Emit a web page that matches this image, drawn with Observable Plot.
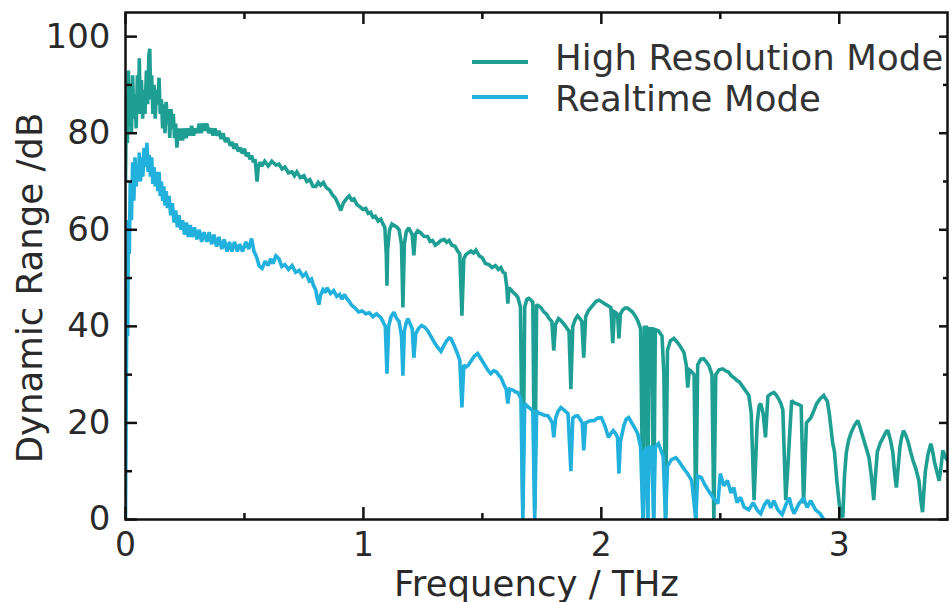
<!DOCTYPE html>
<html>
<head>
<meta charset="utf-8">
<script src="https://cdn.jsdelivr.net/npm/d3@7"></script>
<script src="https://cdn.jsdelivr.net/npm/@observablehq/plot@0.6"></script>
<style>
  html, body { margin: 0; padding: 0; background: #fff; }
  #wrap { position: relative; width: 952px; height: 602px; font-family: "DejaVu Sans", sans-serif; }
  .leg-line { position: absolute; width: 56px; height: 4px; }
  .leg-text { position: absolute; font-size: 35.5px; line-height: 36px; color: #333; white-space: nowrap; letter-spacing: 0.1px; }
</style>
</head>
<body>
<div id="wrap"></div>
<script>
// ---- data (frequency THz, dynamic range dB) ----
const seriesNames = ["High Resolution Mode", "Realtime Mode"];
const seriesColors = ["#1f9f93", "#22b0dc"];

const highResolution = [
  [0.000,70],[0.004,88],[0.008,78],[0.012,93],[0.016,82],[0.020,90],[0.025,80],[0.030,92],
  [0.035,83],[0.040,88],[0.045,81],[0.050,92],[0.055,85],[0.058,95.5],[0.062,84],[0.067,91],
  [0.072,83],[0.077,89],[0.082,84],[0.088,93],[0.093,86],[0.098,96],[0.102,97.5],[0.106,87],
  [0.110,92],[0.115,84],[0.120,90],[0.125,83],[0.130,89],[0.136,86],[0.141,91.5],[0.146,84],
  [0.151,87],[0.156,81],[0.161,86],[0.166,80],[0.171,86.5],[0.176,82],[0.181,85],[0.186,79],
  [0.191,85],[0.196,81],[0.201,84],[0.206,79],[0.211,82],[0.216,77],[0.222,81],[0.228,78.5],
  [0.234,81],[0.240,78.5],[0.247,81],[0.255,79],[0.263,81],[0.270,79.5],[0.278,81.5],
  [0.286,79.5],[0.294,81],[0.302,80],[0.310,82],[0.318,80],[0.326,82],[0.334,80.5],[0.342,82],
  [0.350,80],[0.360,81],[0.368,79.5],[0.376,81],[0.385,79.5],[0.393,80.5],[0.402,78.8],
  [0.410,80],[0.420,78.2],[0.430,79],[0.440,77.4],[0.447,78.2],[0.456,76.8],[0.465,77.8],
  [0.474,76.2],[0.482,77],[0.491,75.8],[0.500,76.8],[0.508,75.2],[0.515,76],[0.523,74.6],
  [0.530,75.4],[0.538,74],[0.545,74.6],[0.553,70],[0.558,73],[0.566,74],[0.573,73.2],
  [0.585,74.2],[0.600,73.2],[0.615,74.2],[0.632,73.4],[0.645,73.6],[0.658,72.6],[0.670,73],
  [0.685,71.8],[0.700,72],[0.710,71.2],[0.720,72],[0.735,70.8],[0.750,71.2],[0.762,70],
  [0.775,70.4],[0.788,69],[0.800,69],[0.810,69.8],[0.820,69.2],[0.832,69.8],[0.843,68.8],
  [0.858,68.2],[0.870,67.2],[0.883,66.5],[0.895,65.2],[0.905,64],[0.915,65.5],[0.928,66.4],
  [0.940,67],[0.950,66.2],[0.960,66.4],[0.973,65.2],[0.985,64.8],[0.998,64.2],[1.010,64.4],
  [1.020,63.4],[1.030,63.6],[1.040,62.6],[1.050,62.8],[1.062,61.8],[1.073,62.2],[1.082,61.2],
  [1.090,60.5],[1.096,55],[1.099,48.4],[1.102,56],[1.110,60],[1.120,61.2],[1.128,60.9],
  [1.140,60.6],[1.150,60],[1.160,57],[1.166,43.9],[1.172,57],[1.180,59.6],[1.190,60.4],
  [1.205,59],[1.212,54.7],[1.218,59],[1.228,59.8],[1.240,59.4],[1.255,58.6],[1.270,58.6],
  [1.280,57.6],[1.290,57.8],[1.302,56.8],[1.313,57.2],[1.326,57.8],[1.340,58],[1.350,57.4],
  [1.360,57.8],[1.372,56.8],[1.385,56.6],[1.396,55.6],[1.405,55],[1.414,42.2],[1.422,54],
  [1.430,54.8],[1.440,55.2],[1.452,55.6],[1.463,55.2],[1.473,55.8],[1.487,54.6],[1.500,54.2],
  [1.513,53],[1.527,52.8],[1.541,52.2],[1.555,52.6],[1.567,51.8],[1.578,52.2],[1.587,51.2],
  [1.595,51],[1.603,48],[1.607,44.7],[1.612,48],[1.620,47.6],[1.630,47],[1.640,46.6],
  [1.649,46],[1.660,44],[1.670,2],[1.678,44],[1.687,45.6],[1.695,45.8],[1.705,45.4],
  [1.712,45],[1.720,2],[1.728,44.5],[1.737,44.2],[1.746,43.9],[1.758,43],[1.770,42.5],
  [1.781,41.6],[1.792,41],[1.800,35],[1.808,40.5],[1.820,41.6],[1.830,41.2],[1.840,40.6],
  [1.850,40],[1.858,39.4],[1.864,39.1],[1.872,27],[1.880,40],[1.890,41.4],[1.900,42.2],
  [1.910,41.6],[1.918,41],[1.926,33.5],[1.934,42],[1.945,43.2],[1.956,43.9],[1.968,44.6],
  [1.978,45.2],[1.990,45.4],[2.005,45],[2.020,44.5],[2.030,44.2],[2.040,43.9],[2.048,36.5],
  [2.055,43],[2.062,42.8],[2.068,42.5],[2.074,37.5],[2.080,42.5],[2.090,43.4],[2.100,43.8],
  [2.110,43.8],[2.120,43.4],[2.130,43],[2.142,42.2],[2.153,41.2],[2.165,39.5],[2.175,0],
  [2.181,39.8],[2.190,39.8],[2.195,0],[2.201,39.5],[2.212,39.5],[2.220,0],[2.227,39.3],
  [2.240,39.1],[2.255,38],[2.263,30],[2.270,0],[2.278,35],[2.290,37],[2.305,37.5],
  [2.318,36.8],[2.330,36],[2.347,34.6],[2.357,32],[2.363,27.3],[2.370,31],[2.376,30.8],
  [2.390,30],[2.397,0],[2.405,32],[2.418,33.2],[2.430,33.3],[2.442,32.6],[2.452,31.9],
  [2.465,30],[2.473,0],[2.481,30],[2.495,31],[2.510,31.2],[2.522,30.8],[2.535,30.5],
  [2.546,29.8],[2.557,29.4],[2.570,28.8],[2.580,28.5],[2.590,27.8],[2.600,27.1],[2.610,26.4],
  [2.620,25.7],[2.630,22],[2.642,4],[2.655,20],[2.663,23.5],[2.670,24],[2.680,22],[2.690,17],
  [2.700,25.5],[2.712,26],[2.725,26.3],[2.735,25.8],[2.745,25],[2.755,24],[2.763,22.6],
  [2.775,4],[2.783,10],[2.792,18],[2.800,24.6],[2.810,24.2],[2.820,24],[2.830,23.8],
  [2.840,23.5],[2.850,3.3],[2.862,20],[2.872,20.6],[2.880,21],[2.893,22.5],[2.905,24],
  [2.920,25],[2.935,25.7],[2.943,25],[2.950,24.5],[2.958,22],[2.965,19],[2.972,16],
  [2.980,14],[2.990,8],[3.005,1],[3.015,0.5],[3.022,9],[3.030,14],[3.040,16.5],[3.050,18],
  [3.064,19.5],[3.078,20.5],[3.088,19],[3.100,17],[3.112,15],[3.125,12.8],[3.135,9],
  [3.145,4],[3.152,9],[3.160,14],[3.172,15.8],[3.185,17],[3.195,18],[3.204,18.5],[3.215,16.5],
  [3.225,14],[3.232,10],[3.240,6.6],[3.248,11],[3.255,15],[3.262,17],[3.270,18.4],[3.280,17.4],
  [3.290,16],[3.300,14],[3.310,12.2],[3.322,10.5],[3.335,8],[3.343,4],[3.350,1.5],[3.356,6],
  [3.362,10],[3.373,13.5],[3.385,15.7],[3.393,14],[3.400,12],[3.410,10],[3.420,8],[3.428,11],
  [3.435,14.3],[3.445,13],[3.455,12.2]
];

const realtime = [
  [0.000,0],[0.003,25],[0.006,48],[0.009,38],[0.012,62],[0.016,55],[0.020,70],[0.025,62],
  [0.030,74],[0.035,66],[0.040,75],[0.045,69],[0.050,73],[0.055,70],[0.058,76],[0.063,70],
  [0.068,75],[0.073,71],[0.078,77],[0.084,73],[0.090,78],[0.095,72],[0.100,75.5],[0.105,71],
  [0.110,75],[0.115,69.5],[0.120,73],[0.125,69],[0.130,72],[0.136,68],[0.141,72],[0.146,67],
  [0.151,70],[0.156,66],[0.161,69],[0.166,65],[0.171,68],[0.176,64.5],[0.183,67],[0.190,63],
  [0.197,65.5],[0.204,61.5],[0.211,64],[0.218,60.5],[0.225,63],[0.233,60],[0.240,62],
  [0.248,59],[0.256,61.5],[0.264,58.5],[0.272,61],[0.280,58.5],[0.290,60.5],[0.300,58],
  [0.310,60],[0.320,57.5],[0.330,59.5],[0.342,57.5],[0.352,59.5],[0.362,57],[0.372,59],
  [0.383,56.5],[0.393,58.5],[0.405,56],[0.415,58],[0.427,55.5],[0.437,57.5],[0.447,55.5],
  [0.458,57.5],[0.470,55.5],[0.480,57],[0.492,55.5],[0.506,57.5],[0.518,56],[0.530,58.2],
  [0.540,55.5],[0.550,54.5],[0.562,52.5],[0.574,52],[0.587,53.5],[0.600,52.6],[0.610,54],
  [0.620,53],[0.632,54.6],[0.645,54],[0.657,52.4],[0.670,52.8],[0.685,51.8],[0.700,52.6],
  [0.715,51.2],[0.730,51.6],[0.745,50.4],[0.758,51],[0.772,49.4],[0.782,49.8],[0.790,48.5],
  [0.800,47.5],[0.805,46],[0.813,44.5],[0.820,46.5],[0.830,47.6],[0.840,47],[0.847,48],
  [0.862,46.8],[0.875,47.4],[0.888,46.2],[0.900,46.6],[0.910,45.6],[0.920,46.6],[0.930,45.8],
  [0.940,45.2],[0.950,44.4],[0.965,43.8],[0.980,43],[0.995,43.2],[1.010,42.6],[1.025,42.8],
  [1.040,42],[1.055,42.6],[1.073,41.8],[1.082,41],[1.092,40],[1.099,30.2],[1.106,40],
  [1.116,42],[1.128,42.9],[1.140,41.6],[1.150,41],[1.160,38],[1.166,29.8],[1.172,39],
  [1.180,40.8],[1.187,41.6],[1.196,40.6],[1.205,39.5],[1.212,33.5],[1.220,38.5],[1.232,39.6],
  [1.245,40.2],[1.258,39.8],[1.270,39.1],[1.285,37.8],[1.300,36.5],[1.313,35.6],[1.326,34.8],
  [1.338,36],[1.350,37],[1.360,37.6],[1.368,37.5],[1.380,36.2],[1.390,35],[1.398,34],
  [1.405,33],[1.414,23.2],[1.422,32],[1.431,31.6],[1.440,31.9],[1.452,32.8],[1.466,33.8],
  [1.480,34.4],[1.495,33.2],[1.510,32],[1.522,31],[1.535,30.2],[1.548,30.8],[1.560,30.5],
  [1.570,29.8],[1.578,29.4],[1.590,28],[1.600,27],[1.607,24],[1.615,27],[1.628,26.8],
  [1.640,26.4],[1.649,26.3],[1.662,25],[1.670,0],[1.678,24],[1.687,23.6],[1.695,23.2],
  [1.705,22.8],[1.712,22.5],[1.720,0],[1.728,22.5],[1.737,22],[1.746,21.9],[1.760,21.6],
  [1.775,21.5],[1.785,20.8],[1.794,20],[1.800,17],[1.808,21],[1.818,22.4],[1.830,23.2],
  [1.845,22.6],[1.860,21.9],[1.872,10],[1.880,21],[1.890,21.4],[1.900,21.5],[1.910,20.8],
  [1.920,20],[1.926,14.3],[1.934,20],[1.950,20.4],[1.970,20.5],[1.985,21],[2.000,21.1],
  [2.015,19.4],[2.030,17],[2.040,17.8],[2.050,18.4],[2.060,17.8],[2.068,17],[2.074,9.5],
  [2.080,16],[2.095,19.5],[2.105,20.8],[2.115,21.1],[2.128,20],[2.140,19],[2.153,17.8],
  [2.165,15],[2.175,0],[2.181,14],[2.187,14.9],[2.195,0],[2.201,15],[2.212,15],[2.220,0],
  [2.227,15],[2.240,15.7],[2.250,14.4],[2.260,13],[2.270,0],[2.278,11],[2.295,12.4],
  [2.313,12.8],[2.327,12],[2.340,11],[2.352,10.2],[2.363,9.5],[2.380,8],[2.397,0],[2.405,9],
  [2.420,8.7],[2.435,7.2],[2.450,6],[2.470,4.5],[2.490,3.3],[2.500,9.5],[2.515,7],[2.530,8.1],
  [2.545,5.5],[2.557,6.6],[2.570,3.5],[2.585,4.6],[2.600,2.6],[2.620,2],[2.638,3.5],
  [2.656,1.9],[2.670,1.2],[2.685,3],[2.700,4],[2.712,2.4],[2.725,3.9],[2.742,2],[2.760,1],
  [2.775,3],[2.790,4.5],[2.800,2.5],[2.810,1.2],[2.830,3.2],[2.850,4.5],[2.865,2.5],
  [2.880,3.9],[2.900,2],[2.920,1.2],[2.935,0]
];

const xMajorTicks = [0, 1, 2, 3];
const xMinorTicks = [0.5, 1.5, 2.5];
const yMajorTicks = [0, 20, 40, 60, 80, 100];
const yMinorTicks = [10, 30, 50, 70, 90];
const xTitle = "Frequency / THz";
const yTitle = "Dynamic Range /dB";

const blank = () => "";
const tickStyle = {stroke: "#111", strokeWidth: 2.5, tickFormat: blank, label: null};

const chart = Plot.plot({
  width: 952,
  height: 602,
  marginLeft: 125,
  marginRight: 5,
  marginTop: 12,
  marginBottom: 83,
  x: {domain: [0, 3.455], label: null},
  y: {domain: [0, 105], label: null},
  style: {fontFamily: "DejaVu Sans, sans-serif", color: "#2a2a2a", background: "white", overflow: "visible"},
  marks: [
    Plot.line(highResolution, {x: d => d[0], y: d => d[1], stroke: seriesColors[0], strokeWidth: 3.6, strokeLinejoin: "miter", strokeMiterlimit: 2, clip: true}),
    Plot.line(realtime, {x: d => d[0], y: d => d[1], stroke: seriesColors[1], strokeWidth: 3.6, strokeLinejoin: "miter", strokeMiterlimit: 2, clip: true}),
    Plot.frame({stroke: "#111", strokeWidth: 2.5}),
    // inward tick marks on all four sides
    Plot.axisX({anchor: "bottom", ticks: xMajorTicks, tickSize: -12, ...tickStyle}),
    Plot.axisX({anchor: "bottom", ticks: xMinorTicks, tickSize: -6, ...tickStyle}),
    Plot.axisX({anchor: "top", ticks: xMajorTicks, tickSize: -11, ...tickStyle}),
    Plot.axisX({anchor: "top", ticks: xMinorTicks, tickSize: -6, ...tickStyle}),
    Plot.axisY({anchor: "left", ticks: yMajorTicks, tickSize: -12, ...tickStyle}),
    Plot.axisY({anchor: "left", ticks: yMinorTicks, tickSize: -7, ...tickStyle}),
    Plot.axisY({anchor: "right", ticks: yMajorTicks, tickSize: -9, ...tickStyle}),
    Plot.axisY({anchor: "right", ticks: yMinorTicks, tickSize: -5, ...tickStyle}),
    // tick labels
    Plot.axisX({anchor: "bottom", ticks: xMajorTicks, tickSize: 0, tickPadding: 13, fontSize: 33, tickFormat: d => String(d), label: null}),
    Plot.axisY({anchor: "left", ticks: yMajorTicks, tickSize: 0, tickPadding: 15, fontSize: 34, tickFormat: d => String(d), label: null}),
    // axis titles
    Plot.text([xTitle], {text: d => d, frameAnchor: "bottom", lineAnchor: "bottom", dy: 76, fontSize: 35.5}),
    Plot.text([yTitle], {text: d => d, frameAnchor: "left", textAnchor: "middle", lineAnchor: "middle", rotate: -90, dx: -95, dy: 22, fontSize: 35.5})
  ]
});

const wrap = document.getElementById("wrap");
wrap.appendChild(chart);

// legend (inside the plot, top right)
const legendRows = [
  {line: 62, text: 40},
  {line: 97, text: 81}
];
seriesNames.forEach((name, i) => {
  const ln = document.createElement("div");
  ln.className = "leg-line";
  ln.style.left = "472px";
  ln.style.top = (legendRows[i].line - 2) + "px";
  ln.style.background = seriesColors[i];
  wrap.appendChild(ln);
  const tx = document.createElement("div");
  tx.className = "leg-text";
  tx.style.left = "555px";
  tx.style.top = legendRows[i].text + "px";
  tx.textContent = name;
  wrap.appendChild(tx);
});
</script>
</body>
</html>
